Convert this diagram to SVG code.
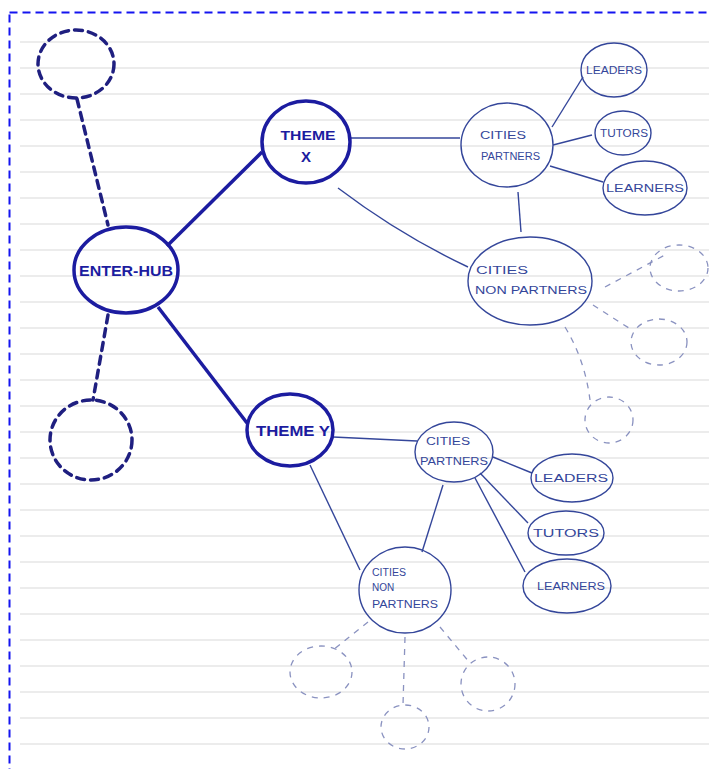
<svg xmlns="http://www.w3.org/2000/svg" width="709" height="769" viewBox="0 0 709 769">
<defs>
<style>
.paper{stroke:#e6e6e6;stroke-width:1.3;fill:none}
.frame{fill:none;stroke:#1414f0;stroke-width:2;stroke-dasharray:8,5}
.bold{fill:none;stroke:#1c1ca0;stroke-width:3.5}
.bdash{fill:none;stroke:#1f1f80;stroke-width:3.5;stroke-dasharray:8,6;stroke-linecap:round}
.thin{fill:none;stroke:#34469a;stroke-width:1.4}
.ldash{fill:none;stroke:#8a92c0;stroke-width:1.3;stroke-dasharray:6,6}
.tb{font-family:"Liberation Sans",Arial,sans-serif;font-weight:bold;fill:#1c1ca0;text-anchor:middle}
.tt{font-family:"Liberation Sans",Arial,sans-serif;fill:#34469a;font-size:10px}
.tc{text-anchor:middle}
</style>
</defs>
<rect width="709" height="769" fill="#ffffff"/>
<g id="paper">
<path class="paper" d="M20 42H709M20 68H709M20 94H709M20 120H709M20 146H709M20 172H709M20 198H709M20 224H709M20 250H709M20 276H709M20 302H709M20 328H709M20 354H709M20 380H709M20 406H709M20 432H709M20 458H709M20 484H709M20 510H709M20 536H709M20 562H709M20 588H709M20 614H709M20 640H709M20 666H709M20 692H709M20 718H709M20 744H709"/>
</g>
<rect class="frame" x="9.5" y="12.5" width="720" height="780"/>
<g id="connectors">
<path class="bold" d="M167 246L262 152"/>
<path class="bold" d="M158 307L247 423"/>
<path class="bdash" d="M77 99L108 225"/>
<path class="bdash" d="M108 315L93 400"/>
<path class="thin" d="M350 138L460 138"/>
<path class="thin" d="M338 188Q400 235 468 267"/>
<path class="thin" d="M552 127L583 77"/>
<path class="thin" d="M553 145L592 135"/>
<path class="thin" d="M550 166L603 182"/>
<path class="thin" d="M518 192L521 232"/>
<path class="ldash" d="M605 287L665 255"/>
<path class="ldash" d="M593 305L632 330"/>
<path class="ldash" d="M565 327Q585 360 590 400"/>
<path class="thin" d="M333 437L417 441"/>
<path class="thin" d="M310 465L360 570"/>
<path class="thin" d="M493 457L532 473"/>
<path class="thin" d="M480 473L528 523"/>
<path class="thin" d="M475 478L525 572"/>
<path class="thin" d="M443 485L422 552"/>
<path class="ldash" d="M368 622L333 650"/>
<path class="ldash" d="M405 637L403 705"/>
<path class="ldash" d="M440 627L470 663"/>
</g>
<g id="ghost-top"><ellipse class="bdash" cx="76" cy="64" rx="38" ry="34"/></g>
<g id="ghost-left"><ellipse class="bdash" cx="91" cy="440" rx="41" ry="40"/></g>
<g id="enter-hub"><ellipse class="bold" cx="126" cy="270" rx="52" ry="43"/><text class="tb" x="126" y="276" font-size="14" textLength="94" lengthAdjust="spacingAndGlyphs">ENTER-HUB</text></g>
<g id="theme-x"><ellipse class="bold" cx="306" cy="142" rx="44" ry="41"/><text class="tb" x="308" y="140" font-size="12" textLength="55" lengthAdjust="spacingAndGlyphs">THEME</text><text class="tb" x="306" y="162" font-size="15">X</text></g>
<g id="theme-y"><ellipse class="bold" cx="290" cy="430" rx="43" ry="36"/><text class="tb" x="293" y="436" font-size="14" textLength="74" lengthAdjust="spacingAndGlyphs">THEME Y</text></g>
<g id="cities-partners-x"><ellipse class="thin" cx="507" cy="145" rx="46" ry="42"/><text class="tt" x="480" y="139" font-size="11" textLength="46" lengthAdjust="spacingAndGlyphs">CITIES</text><text class="tt" x="481" y="160" font-size="11" textLength="59" lengthAdjust="spacingAndGlyphs">PARTNERS</text></g>
<g id="leaders-x"><ellipse class="thin" cx="614" cy="70" rx="33" ry="27"/><text class="tt tc" x="614" y="74" font-size="9" textLength="56" lengthAdjust="spacingAndGlyphs">LEADERS</text></g>
<g id="tutors-x"><ellipse class="thin" cx="623" cy="133" rx="28" ry="22"/><text class="tt tc" x="624" y="137" font-size="9" textLength="48" lengthAdjust="spacingAndGlyphs">TUTORS</text></g>
<g id="learners-x"><ellipse class="thin" cx="645" cy="188" rx="42" ry="27"/><text class="tt tc" x="645" y="192" font-size="9" textLength="78" lengthAdjust="spacingAndGlyphs">LEARNERS</text></g>
<g id="cities-non-partners-x"><ellipse class="thin" cx="530" cy="281" rx="62" ry="44"/><text class="tt" x="476" y="274" font-size="12" textLength="52" lengthAdjust="spacingAndGlyphs">CITIES</text><text class="tt" x="475" y="294" font-size="11" textLength="112" lengthAdjust="spacingAndGlyphs">NON PARTNERS</text></g>
<g id="ghost-x1"><ellipse class="ldash" cx="679" cy="268" rx="29" ry="23"/></g>
<g id="ghost-x2"><ellipse class="ldash" cx="659" cy="342" rx="28" ry="23"/></g>
<g id="ghost-x3"><ellipse class="ldash" cx="609" cy="420" rx="24" ry="23"/></g>
<g id="cities-partners-y"><ellipse class="thin" cx="454" cy="452" rx="39" ry="30"/><text class="tt" x="426" y="445" font-size="11" textLength="44" lengthAdjust="spacingAndGlyphs">CITIES</text><text class="tt" x="420" y="465" font-size="11" textLength="68" lengthAdjust="spacingAndGlyphs">PARTNERS</text></g>
<g id="leaders-y"><ellipse class="thin" cx="572" cy="478" rx="41" ry="24"/><text class="tt tc" x="571" y="482" font-size="10" textLength="74" lengthAdjust="spacingAndGlyphs">LEADERS</text></g>
<g id="tutors-y"><ellipse class="thin" cx="566" cy="533" rx="38" ry="22"/><text class="tt tc" x="566" y="537" font-size="10" textLength="66" lengthAdjust="spacingAndGlyphs">TUTORS</text></g>
<g id="learners-y"><ellipse class="thin" cx="567" cy="586" rx="44" ry="27"/><text class="tt tc" x="571" y="590" font-size="10" textLength="68" lengthAdjust="spacingAndGlyphs">LEARNERS</text></g>
<g id="cities-non-partners-y"><ellipse class="thin" cx="405" cy="590" rx="46" ry="43"/><text class="tt" x="372" y="576" font-size="11" textLength="34" lengthAdjust="spacingAndGlyphs">CITIES</text><text class="tt" x="372" y="591" font-size="10">NON</text><text class="tt" x="372" y="608" font-size="10" textLength="66" lengthAdjust="spacingAndGlyphs">PARTNERS</text></g>
<g id="ghost-y1"><ellipse class="ldash" cx="321" cy="672" rx="31" ry="26"/></g>
<g id="ghost-y2"><ellipse class="ldash" cx="405" cy="727" rx="24" ry="22"/></g>
<g id="ghost-y3"><ellipse class="ldash" cx="488" cy="684" rx="27" ry="27"/></g>
</svg>
